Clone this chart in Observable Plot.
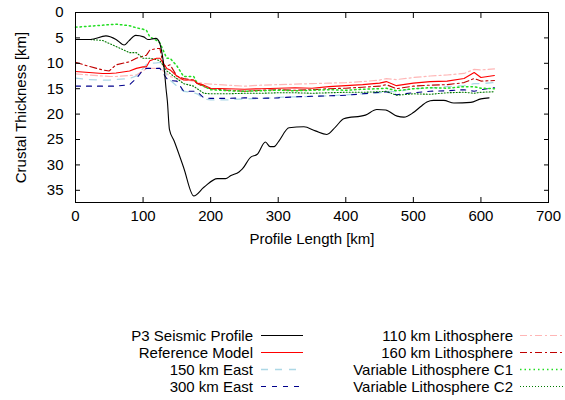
<!DOCTYPE html>
<html>
<head>
<meta charset="utf-8">
<script src="https://cdn.jsdelivr.net/npm/d3@7"></script>
<script src="https://cdn.jsdelivr.net/npm/@observablehq/plot@0.6"></script>
<style>
  body { margin: 0; background: #fff; font-family: "Liberation Sans", Arial, sans-serif; }
  #wrap { position: relative; width: 565px; height: 400px; }
  .leg { position: absolute; font-size: 15px; color: #000; display: flex; align-items: center; height: 17px; }
  .leg span { text-align: right; display: inline-block; }
</style>
</head>
<body>
<div id="wrap"><div id="chart"></div></div>
<script>
// Seismic profile
const seismicX = [0,22,45,60,72,79,89,101,107,119,124,128,131,134,136,139,146,160,175,190,210,222,230,242,247,259,269,281,288,294,301,316,338,355,372,385,397,429,446,459,476,486,500,511,520,530,545,560,585,600,612];
const seismicD = [5.3,5.3,4.6,5.3,6.4,5.6,4.5,4.8,5.3,5.1,5.8,8,10.7,15,17.5,23,25.3,30.5,36.1,34.4,32.7,32.7,32.1,31.4,30.8,28.5,27.9,25.5,26.4,26.4,25.3,22.7,22.5,23.3,24,22.5,20.9,20.2,19.1,19.2,20.4,20.6,19.7,18.5,17.6,17.3,17.3,17.8,17.7,17.0,16.8];

// Model curves share one profile grid
const modelX = [0,20,40,50,60,80,90,100,105,110,120,125,130,135,140,150,160,175,180,190,200,225,250,275,300,325,350,375,400,425,450,460,475,500,525,550,575,590,600,620];
const reference = [11.6,11.8,12.0,12.0,11.9,11.5,11.0,10.7,10.7,9.5,9.0,9.0,10.0,11.0,11.3,12.5,13.3,13.3,13.9,14.3,14.9,15.0,15.1,15.0,14.9,14.8,14.9,14.6,14.4,14.2,13.9,13.6,14.4,13.9,13.6,13.5,13.0,11.8,12.8,12.4];
const litho110 = [12.1,12.3,12.5,12.6,12.6,12.4,12.3,11.5,11.0,11.0,11.0,11.0,11.5,12.0,12.6,13.0,13.3,13.5,13.7,14.0,14.1,14.3,14.5,14.3,14.2,14.1,14.0,13.9,13.8,13.6,13.3,13.0,13.2,12.8,12.5,12.3,12.0,11.2,11.3,11.1];
const litho160 = [9.8,10.6,11.3,11.5,10.3,9.7,9.0,8.6,8.4,7.4,7.1,7.1,10.5,10.5,10.3,12.5,13.0,13.3,14.0,14.6,15.0,15.3,15.5,15.3,15.2,15.3,15.2,15.0,14.9,14.7,14.5,14.2,15.0,14.5,14.3,14.2,13.8,13.0,13.5,13.4];
const east150 = [12.9,13.2,13.3,13.3,13.2,13.0,12.5,11.0,10.2,10.0,9.9,9.8,11.0,12.3,13.3,14.5,15.5,15.8,16.0,17.0,17.2,17.2,17.0,16.9,16.7,16.6,16.5,16.4,16.2,16.0,15.8,15.5,15.6,15.0,14.9,14.6,14.4,14.0,14.0,13.8];
const east300 = [14.5,14.5,14.5,14.5,14.5,14.2,13.0,11.3,11.0,11.0,11.0,11.0,12.0,13.0,13.4,13.5,15.5,15.5,15.6,16.8,16.9,16.9,16.8,16.9,16.8,16.6,16.5,16.4,16.3,16.0,15.7,15.6,16.2,15.8,15.5,15.4,15.2,15.5,15.2,14.8];
const varC1 = [2.9,2.7,2.5,2.4,2.3,2.6,3.0,3.3,3.5,4.8,5.5,6.0,7.5,9.0,9.0,10.5,12.6,12.6,13.9,14.5,15.2,15.4,15.5,15.4,15.3,15.4,15.3,15.2,15.3,15.1,15.0,14.9,15.4,15.0,14.8,14.9,14.6,14.6,14.9,15.0];
const varC2 = [5.3,5.3,5.5,6.1,6.7,7.9,7.9,9.0,9.0,9.0,9.3,9.5,10.5,11.5,12.0,13.0,14.0,14.5,15.0,15.9,16.0,16.0,15.9,15.9,15.8,15.8,15.9,15.8,15.7,15.7,15.6,15.5,16.3,16.0,16.1,15.8,15.7,15.9,15.7,15.6];

const xTicks = [0,100,200,300,400,500,600,700];
const yTicks = [0,5,10,15,20,25,30,35];

const series = [
  {name: "P3 Seismic Profile", color: "#000000", dash: null, width: 1.1, x: seismicX, d: seismicD},
  {name: "Reference Model", color: "#ff0000", dash: null, width: 1.1, x: modelX, d: reference},
  {name: "150 km East", color: "#add8e6", dash: "7,7", width: 1.3, x: modelX, d: east150},
  {name: "300 km East", color: "#00008b", dash: "5,6", width: 1.1, x: modelX, d: east300},
  {name: "110 km Lithosphere", color: "#ffb6b6", dash: "7,3,2,3", width: 1.2, x: modelX, d: litho110},
  {name: "160 km Lithosphere", color: "#c00000", dash: "7,3,2,3", width: 1.1, x: modelX, d: litho160},
  {name: "Variable Lithosphere C1", color: "#22dd22", dash: "1.5,3", width: 1.5, x: modelX, d: varC1},
  {name: "Variable Lithosphere C2", color: "#007a00", dash: "1,2", width: 1.1, x: modelX, d: varC2}
];

const drawOrder = [4,5,2,3,6,7,1,0];
const lineMarks = drawOrder.map(i => {
  const s = series[i];
  const data = s.x.map((x, j) => ({x, d: s.d[j]}));
  return Plot.line(data, {x: "x", y: "d", stroke: s.color, strokeWidth: s.width,
    strokeDasharray: s.dash ?? undefined, curve: i === 0 ? "monotone-x" : "linear"});
});

const chart = Plot.plot({
  width: 565,
  height: 262,
  marginLeft: 75,
  marginRight: 17,
  marginTop: 12,
  marginBottom: 60,
  style: {fontFamily: "'Liberation Sans', Arial, sans-serif", fontSize: "15px", background: "#fff", color: "#000"},
  x: {domain: [0, 700]},
  y: {domain: [0, 37.4], reverse: true},
  marks: [
    ...lineMarks,
    Plot.frame({stroke: "#000", strokeWidth: 1}),
    Plot.axisX(xTicks, {anchor: "bottom", tickSize: -5, tickPadding: 13, label: "Profile Length [km]", labelAnchor: "center", labelArrow: "none", labelOffset: 41, fontSize: 15}),
    Plot.axisX(xTicks, {anchor: "top", tickSize: -5, tickFormat: () => "", label: null}),
    Plot.axisY(yTicks, {anchor: "left", tickSize: -5, tickPadding: 17, label: "Crustal Thickness [km]", labelAnchor: "center", labelArrow: "none", labelOffset: 60, fontSize: 15}),
    Plot.axisY(yTicks, {anchor: "right", tickSize: -5, tickFormat: () => "", label: null})
  ]
});
document.getElementById("chart").appendChild(chart);

// Legend
const wrap = document.getElementById("wrap");
const rowsY = [327, 344, 361, 378];
series.forEach((s, i) => {
  const col = i < 4 ? 0 : 1;
  const row = i % 4;
  const textRight = col === 0 ? 253 : 513;
  const sampleX0 = col === 0 ? 261 : 520;
  const sampleW = col === 0 ? 42 : 43;
  const div = document.createElement("div");
  div.className = "leg";
  div.style.left = (textRight - 240) + "px";
  div.style.top = rowsY[row] + "px";
  const span = document.createElement("span");
  span.style.width = "240px";
  span.textContent = s.name;
  div.appendChild(span);
  wrap.appendChild(div);
  const svgNS = "http://www.w3.org/2000/svg";
  const svg = document.createElementNS(svgNS, "svg");
  svg.setAttribute("width", sampleW);
  svg.setAttribute("height", 17);
  svg.style.position = "absolute";
  svg.style.left = sampleX0 + "px";
  svg.style.top = rowsY[row] + "px";
  const ln = document.createElementNS(svgNS, "line");
  ln.setAttribute("x1", 0); ln.setAttribute("x2", sampleW);
  ln.setAttribute("y1", 8.5); ln.setAttribute("y2", 8.5);
  ln.setAttribute("stroke", s.color);
  ln.setAttribute("stroke-width", s.width);
  if (s.dash) ln.setAttribute("stroke-dasharray", s.dash);
  svg.appendChild(ln);
  wrap.appendChild(svg);
});
</script>
</body>
</html>
